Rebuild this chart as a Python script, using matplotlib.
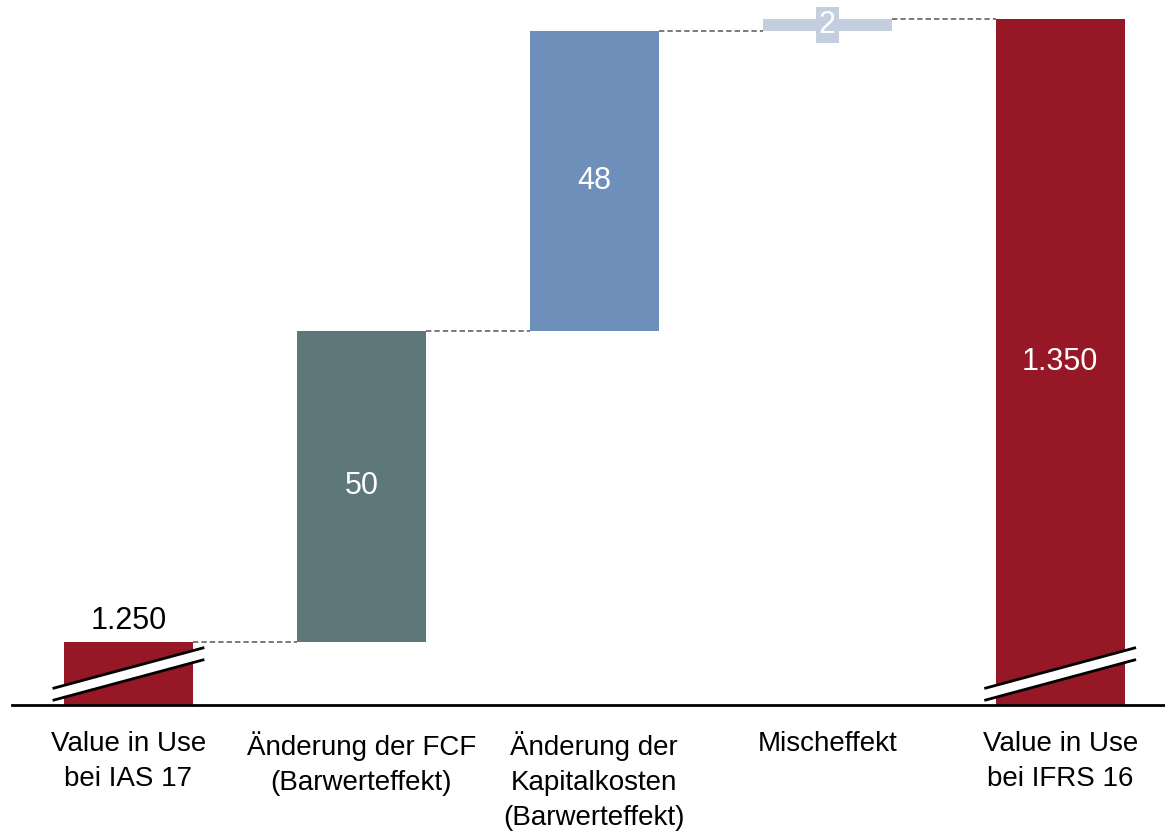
import numpy as np
import matplotlib
matplotlib.use("Agg")
import matplotlib.pyplot as plt
import matplotlib.transforms as mtransforms

plt.rcParams['font.family'] = ['Liberation Sans Narrow', 'Liberation Sans', 'DejaVu Sans']

# Waterfall: Value in Use IAS 17 -> IFRS 16
categories = ["Value in Use\nbei IAS 17",
              "Änderung der FCF\n(Barwerteffekt)",
              "Änderung der\nKapitalkosten\n(Barwerteffekt)",
              "Mischeffekt",
              "Value in Use\nbei IFRS 16"]
start_value = 1250
deltas = [50, 48, 2]
end_value = 1350
value_labels = ["1.250", "50", "48", "2", "1.350"]

RED = "#961826"
SLATE = "#5e777b"
BLUE = "#6e8fba"
LIGHT = "#c3cedf"
colors = [RED, SLATE, BLUE, LIGHT, RED]

Y_MIN, Y_MAX = 1239.9, 1353.05
BAR_W = 0.555

fig = plt.figure(figsize=(11.65, 8.32), dpi=100)
ax = fig.add_axes([0.0103, 0.1526, 0.9897, 0.8474])

x = np.arange(len(categories))
bottoms = [Y_MIN]
tops = [start_value]
level = start_value
for d in deltas:
    bottoms.append(level)
    level += d
    tops.append(level)
bottoms.append(Y_MIN)
tops.append(end_value)
heights = [t - b for t, b in zip(tops, bottoms)]

ax.bar(x, heights, bottom=bottoms, width=BAR_W, color=colors, zorder=2)

# dashed connectors between consecutive bar tops
for i in range(len(x) - 1):
    lvl = tops[i]
    ax.plot([x[i] + BAR_W / 2, x[i + 1] - BAR_W / 2], [lvl, lvl],
            color="#555555", lw=1.1, ls=(0, (3.5, 2)), zorder=1)

# axis-break marks on the start and end bars
trans = mtransforms.blended_transform_factory(ax.transData, ax.transAxes)
for i in (0, len(x) - 1):
    xl, xr = x[i] - 0.32, x[i] + 0.32
    lo_l, hi_l = 0.0071, 0.024
    lo_r, hi_r = 0.064, 0.081
    ax.fill([xl, xr, xr, xl], [lo_l, lo_r, hi_r, hi_l], color="white",
            transform=trans, zorder=3, lw=0)
    ax.plot([xl, xr], [hi_l, hi_r], color="black", lw=2, transform=trans, zorder=4)
    ax.plot([xl, xr], [lo_l, lo_r], color="black", lw=2, transform=trans, zorder=4)

FS_VAL = 22
FS_CAT = 20
# value labels
ax.text(x[0], tops[0] + 1.0, value_labels[0], ha="center", va="bottom",
        fontsize=FS_VAL, color="black")
for i in (1, 2):
    ax.text(x[i], (bottoms[i] + tops[i]) / 2, value_labels[i], ha="center",
            va="center", fontsize=FS_VAL, color="white", zorder=5)
ax.text(x[3], (bottoms[3] + tops[3]) / 2, value_labels[3], ha="center",
        va="center", fontsize=FS_VAL, color="white", zorder=5,
        bbox=dict(boxstyle="square,pad=0.1", fc=LIGHT, ec="none"))
ax.text(x[4], (Y_MIN + tops[4]) / 2, value_labels[4], ha="center",
        va="center", fontsize=FS_VAL, color="white", zorder=5)

ax.set_xlim(-0.5, 4.45)
ax.set_ylim(Y_MIN, Y_MAX)
ax.set_xticks(x)
ax.set_xticklabels(categories, fontsize=FS_CAT, linespacing=1.45)
ax.tick_params(axis="x", length=0, pad=19)
ax.set_yticks([])
for s in ("top", "right", "left"):
    ax.spines[s].set_visible(False)
ax.spines["bottom"].set_linewidth(2)

fig.savefig("out.png", dpi=100)
